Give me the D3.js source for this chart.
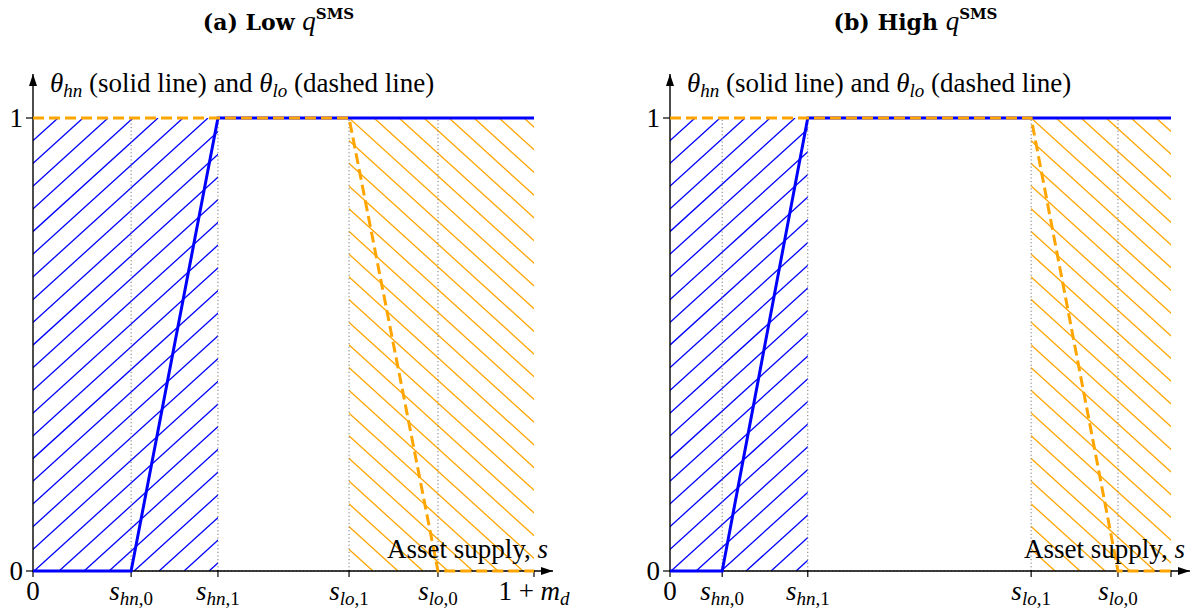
<!DOCTYPE html>
<html><head><meta charset="utf-8">
<script src="https://cdn.jsdelivr.net/npm/d3@7"></script>
<style>body{margin:0;background:#fff}svg{display:block}</style>
</head><body>
<script>
// ---- data ----
const panelIds = ["a", "b"];
const panelTitles = ["Low", "High"];
const xEnd = 1.2;                        // 1 + m_d
const sHn0 = [0.235, 0.125];
const sHn1 = [0.443, 0.330];
const sLo1 = [0.757, 0.865];
const sLo0 = [0.970, 1.073];
const yTicks = [0, 1];
const xTickNames = ["0", "hn,0", "hn,1", "lo,1", "lo,0", "end"];
const showEndLabel = [true, false];

const W = 1191, H = 611;
const svg = d3.select("body").append("svg").attr("width", W).attr("height", H);
const serif = "'Liberation Serif','Times New Roman',serif";
const titleFont = "'DejaVu Serif',serif";
const BLUE = "#0000ff", ORANGE = "#ffa500";
const FS = 27, FSUB = 19;

const defs = svg.append("defs");
defs.append("marker").attr("id", "arr").attr("viewBox", "0 0 12 8")
  .attr("refX", 12).attr("refY", 4).attr("markerWidth", 12).attr("markerHeight", 8)
  .attr("markerUnits", "userSpaceOnUse").attr("orient", "auto")
  .append("path").attr("d", "M0,0 L12,4 L0,8 Z").attr("fill", "#000");

const ranges = [[33, 534], [670, 1171]];

panelIds.forEach((id, i) => {
  const x = d3.scaleLinear().domain([0, xEnd]).range(ranges[i]);
  const y = d3.scaleLinear().domain([0, 1]).range([571, 118]);
  const g = svg.append("g");
  const cx = (ranges[i][0] + ranges[i][1]) / 2;

  // title
  const t = g.append("text").attr("x", cx - 5).attr("y", 30).attr("text-anchor", "middle")
    .attr("font-family", titleFont).attr("font-size", 22).attr("font-weight", "bold");
  t.append("tspan").text(`(${id}) ${panelTitles[i]} `);
  t.append("tspan").attr("font-family", serif).attr("font-size", 27).attr("font-weight", "normal").attr("font-style", "italic").text("q");
  t.append("tspan").attr("font-size", 15).attr("dy", -11).text("SMS");

  // hatch regions
  const hatch = (x0, x1, dir, color, cid) => {
    defs.append("clipPath").attr("id", cid).append("rect")
      .attr("x", x(x0)).attr("y", y(1)).attr("width", x(x1) - x(x0)).attr("height", y(0) - y(1));
    const dx = 25, dy = 22.7;
    const px0 = x(x0), py0 = y(1), h = y(0) - y(1), w = x(x1) - x(x0);
    const n = Math.ceil((w + h * dx / dy) / dx) + 2;
    const hg = g.append("g").attr("clip-path", `url(#${cid})`);
    d3.range(-n, n).forEach(k => {
      const xa = px0 + k * dx, ya = py0;
      const xb = xa - dir * (h / dy) * dx, yb = py0 + h;
      hg.append("line").attr("x1", xa).attr("y1", ya).attr("x2", xb).attr("y2", yb)
        .attr("stroke", color).attr("stroke-width", 1.3);
    });
  };
  hatch(0, sHn1[i], 1, BLUE, "cb" + id);
  hatch(sLo1[i], xEnd, -1, ORANGE, "co" + id);

  // dotted guides
  const dotted = "1.2,2.4";
  [sHn0[i], sHn1[i], sLo1[i], sLo0[i]].forEach(v => {
    g.append("line").attr("x1", x(v)).attr("x2", x(v)).attr("y1", y(0)).attr("y2", y(1))
      .attr("stroke", "#777").attr("stroke-width", 1).attr("stroke-dasharray", dotted);
  });
  g.append("line").attr("x1", x(0)).attr("x2", x(xEnd)).attr("y1", y(0)).attr("y2", y(0))
    .attr("stroke", "#777").attr("stroke-width", 1).attr("stroke-dasharray", dotted);

  // axes
  g.append("line").attr("x1", x(0)).attr("y1", y(0)).attr("x2", x(xEnd) + 19).attr("y2", y(0))
    .attr("stroke", "#000").attr("stroke-width", 1.4).attr("marker-end", "url(#arr)");
  g.append("line").attr("x1", x(0)).attr("y1", y(0) + 1).attr("x2", x(0)).attr("y2", 74)
    .attr("stroke", "#000").attr("stroke-width", 1.4).attr("marker-end", "url(#arr)");

  // y ticks
  yTicks.forEach(v => {
    g.append("line").attr("x1", x(0) - 7).attr("x2", x(0) + 2).attr("y1", y(v)).attr("y2", y(v))
      .attr("stroke", "#000").attr("stroke-width", 1.2);
    g.append("text").attr("x", x(0) - 10).attr("y", y(v) + 9).attr("text-anchor", "end")
      .attr("font-family", serif).attr("font-size", FS).text(v);
  });

  // x ticks
  const xVals = [0, sHn0[i], sHn1[i], sLo1[i], sLo0[i], xEnd];
  xVals.forEach((v, j) => {
    g.append("line").attr("x1", x(v)).attr("x2", x(v)).attr("y1", y(0) - 1).attr("y2", y(0) + 6)
      .attr("stroke", "#000").attr("stroke-width", 1.2);
    const name = xTickNames[j];
    if (name === "end" && !showEndLabel[i]) return;
    const tx = g.append("text").attr("x", x(v)).attr("y", 600).attr("text-anchor", "middle")
      .attr("font-family", serif).attr("font-size", FS);
    if (name === "0") tx.text("0");
    else if (name === "end") {
      tx.append("tspan").text("1 + ");
      tx.append("tspan").attr("font-style", "italic").text("m");
      tx.append("tspan").attr("font-style", "italic").attr("font-size", FSUB).attr("dy", 5).text("d");
    } else {
      const [sub, num] = name.split(",");
      tx.append("tspan").attr("font-style", "italic").text("s");
      tx.append("tspan").attr("font-style", "italic").attr("font-size", FSUB).attr("dy", 5).text(sub);
      tx.append("tspan").attr("font-size", FSUB).text("," + num);
    }
  });

  // lines
  const line = d3.line().x(d => x(d[0])).y(d => y(d[1]));
  const hnPts = [[0, 0], [sHn0[i], 0], [sHn1[i], 1], [xEnd, 1]];
  const loPts = [[0, 1], [sLo1[i], 1], [sLo0[i], 0], [xEnd, 0]];
  g.append("path").attr("d", line(hnPts)).attr("fill", "none").attr("stroke", BLUE).attr("stroke-width", 3);
  g.append("path").attr("d", line(loPts)).attr("fill", "none").attr("stroke", ORANGE)
    .attr("stroke-width", 3).attr("stroke-dasharray", "11,5");

  // axis labels
  const yl = g.append("text").attr("x", x(0) + 17).attr("y", 92)
    .attr("font-family", serif).attr("font-size", FS);
  yl.append("tspan").attr("font-style", "italic").text("θ");
  yl.append("tspan").attr("font-style", "italic").attr("font-size", FSUB).attr("dy", 5).text("hn");
  yl.append("tspan").attr("dy", -5).text(" (solid line) and ");
  yl.append("tspan").attr("font-style", "italic").text("θ");
  yl.append("tspan").attr("font-style", "italic").attr("font-size", FSUB).attr("dy", 5).text("lo");
  yl.append("tspan").attr("dy", -5).text(" (dashed line)");

  const xl = g.append("text").attr("x", x(xEnd) + 14).attr("y", 558).attr("text-anchor", "end")
    .attr("font-family", serif).attr("font-size", FS);
  xl.append("tspan").text("Asset supply, ");
  xl.append("tspan").attr("font-style", "italic").text("s");
});
</script>
</body></html>
